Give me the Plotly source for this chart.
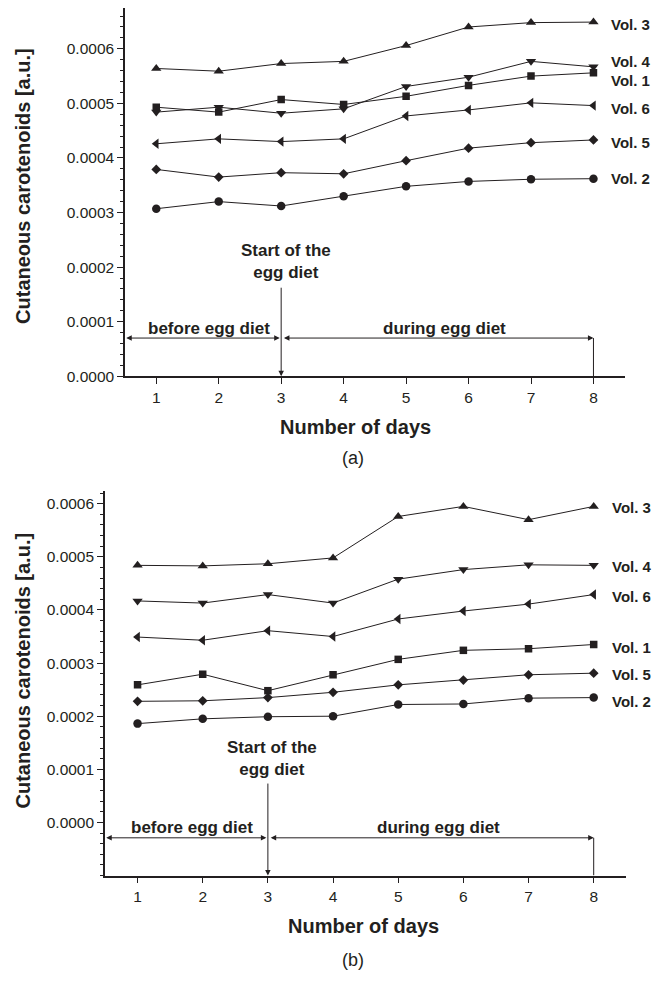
import plotly.graph_objects as go

days = [1, 2, 3, 4, 5, 6, 7, 8]
vol_names = ["Vol. 1", "Vol. 2", "Vol. 3", "Vol. 4", "Vol. 5", "Vol. 6"]

# Panel (a)
a_vol1 = [0.000493, 0.000484, 0.000507, 0.000498, 0.000513, 0.000533, 0.000550, 0.000556]
a_vol2 = [0.000307, 0.000320, 0.000312, 0.000330, 0.000348, 0.000357, 0.000361, 0.000362]
a_vol3 = [0.000564, 0.000559, 0.000573, 0.000577, 0.000606, 0.000640, 0.000648, 0.000649]
a_vol4 = [0.000484, 0.000493, 0.000482, 0.000490, 0.000531, 0.000548, 0.000577, 0.000567]
a_vol5 = [0.000379, 0.000365, 0.000373, 0.000371, 0.000395, 0.000418, 0.000428, 0.000433]
a_vol6 = [0.000426, 0.000435, 0.000430, 0.000435, 0.000477, 0.000488, 0.000501, 0.000496]

# Panel (b)
b_vol1 = [0.000259, 0.000279, 0.000248, 0.000278, 0.000307, 0.000324, 0.000327, 0.000335]
b_vol2 = [0.000186, 0.000195, 0.000199, 0.000200, 0.000222, 0.000223, 0.000234, 0.000235]
b_vol3 = [0.000484, 0.000483, 0.000487, 0.000498, 0.000576, 0.000595, 0.000570, 0.000595]
b_vol4 = [0.000417, 0.000413, 0.000429, 0.000413, 0.000458, 0.000476, 0.000485, 0.000484]
b_vol5 = [0.000228, 0.000229, 0.000235, 0.000245, 0.000259, 0.000268, 0.000278, 0.000281]
b_vol6 = [0.000349, 0.000343, 0.000361, 0.000350, 0.000383, 0.000398, 0.000411, 0.000429]

y_tick_vals = [0.0, 0.0001, 0.0002, 0.0003, 0.0004, 0.0005, 0.0006]
y_tick_text = ["0.0000", "0.0001", "0.0002", "0.0003", "0.0004", "0.0005", "0.0006"]

# label positions (layout, not data)
a_label_y = [0.000542, 0.000362, 0.000644, 0.000577, 0.000429, 0.000490]
b_label_y = [0.000330, 0.000228, 0.000592, 0.000482, 0.000279, 0.000426]

symbols = ["square", "circle", "triangle-up", "triangle-down", "diamond", "triangle-left"]
sizes = [7.5, 8.5, 9, 9, 7.5, 9]
INK = "#231f20"
FONT = "Liberation Sans, Arial, sans-serif"

fig = go.Figure()

panels = [
    ("x", "y", [a_vol1, a_vol2, a_vol3, a_vol4, a_vol5, a_vol6], a_label_y),
    ("x2", "y2", [b_vol1, b_vol2, b_vol3, b_vol4, b_vol5, b_vol6], b_label_y),
]

annotations = []
shapes = []

for xa, ya, series, label_y in panels:
    for name, vals, sym, sz, ly in zip(vol_names, series, symbols, sizes, label_y):
        fig.add_trace(go.Scatter(
            x=days, y=vals, name=name, mode="lines+markers",
            line=dict(color=INK, width=1),
            marker=dict(symbol=sym, size=sz, color=INK, line=dict(width=0)),
            xaxis=xa, yaxis=ya, showlegend=False,
        ))
        annotations.append(dict(
            x=8.25, y=ly, xref=xa, yref=ya, text="<b>%s</b>" % name,
            showarrow=False, xanchor="left", yanchor="middle",
            font=dict(family=FONT, size=15, color=INK),
        ))

# arrows and texts per panel
arrow_cfg = [
    ("x", "y", 0.00007, 0.000165, 0.0, 0.000088, 0.00021),
    ("x2", "y2", -0.000029, 0.000076, -0.0001, -0.0000093, 0.00012),
]
for xa, ya, ay_h, vtop, vbot, ty, sy in arrow_cfg:
    common = dict(xref=xa, yref=ya, axref=xa, ayref=ya, text="", showarrow=True,
                  arrowhead=2, arrowsize=1.1, arrowwidth=1, arrowcolor=INK,
                  standoff=0, startstandoff=0)
    annotations.append(dict(common, x=0.52, y=ay_h, ax=3, ay=ay_h, arrowside="end+start"))
    annotations.append(dict(common, x=8, y=ay_h, ax=3.02, ay=ay_h, arrowside="end+start"))
    annotations.append(dict(common, x=3, y=vbot, ax=3, ay=vtop, arrowside="end"))
    shapes.append(dict(type="line", xref=xa, yref=ya, x0=8, x1=8, y0=vbot, y1=ay_h,
                       line=dict(color=INK, width=1)))
    annotations.append(dict(x=1.84, y=ty, xref=xa, yref=ya, text="<b>before egg diet</b>",
                            showarrow=False, xanchor="center", yanchor="middle",
                            font=dict(family=FONT, size=17, color=INK)))
    annotations.append(dict(x=5.62, y=ty, xref=xa, yref=ya, text="<b>during egg diet</b>",
                            showarrow=False, xanchor="center", yanchor="middle",
                            font=dict(family=FONT, size=17, color=INK)))
    annotations.append(dict(x=3.07, y=sy, xref=xa, yref=ya,
                            text="<b>Start of the</b><br><b>egg diet</b>",
                            showarrow=False, xanchor="center", yanchor="middle",
                            font=dict(family=FONT, size=17, color=INK)))

# axis titles and panel labels
for xt, yt, xy, yy, lab, ly in [(0.536, 0.5621, 0.0354, 0.8086, "(a)", 0.5298),
                                 (0.547, 0.0496, 0.0346, 0.3116, "(b)", 0.01395)]:
    annotations.append(dict(x=xt, y=yt, xref="paper", yref="paper", text="<b>Number of days</b>",
                            showarrow=False, xanchor="center", yanchor="middle",
                            font=dict(family=FONT, size=20, color=INK)))
    annotations.append(dict(x=xy, y=yy, xref="paper", yref="paper",
                            text="<b>Cutaneous carotenoids [a.u.]</b>", textangle=-90,
                            showarrow=False, xanchor="center", yanchor="middle",
                            font=dict(family=FONT, size=20, color=INK)))
    annotations.append(dict(x=0.532, y=ly, xref="paper", yref="paper", text=lab,
                            showarrow=False, xanchor="center", yanchor="middle",
                            font=dict(family=FONT, size=18, color=INK)))

xcommon = dict(range=[0.5, 8.5], tickmode="array", tickvals=days, ticktext=[str(d) for d in days],
               ticks="outside", ticklen=6, tickwidth=1, tickcolor=INK,
               showline=True, linecolor=INK, linewidth=1.5, showgrid=False, zeroline=False,
               tickfont=dict(family=FONT, size=15.5, color=INK), fixedrange=True)


def ycommon(rng):
    minors = [round(v * 0.00002, 7) for v in range(-5, 35)]
    return dict(range=rng, tickmode="array", tickvals=y_tick_vals, ticktext=y_tick_text,
                ticks="outside", ticklen=6, tickwidth=1, tickcolor=INK,
                minor=dict(tickmode="array", tickvals=minors, ticks="outside", ticklen=3.5,
                           tickwidth=1, tickcolor=INK),
                showline=True, linecolor=INK, linewidth=1.5, showgrid=False, zeroline=False,
                tickfont=dict(family=FONT, size=15.5, color=INK), fixedrange=True)


fig.update_layout(
    width=664, height=982, autosize=False,
    margin=dict(l=0, r=0, t=0, b=0),
    paper_bgcolor="white", plot_bgcolor="white",
    showlegend=False,
    xaxis=dict(xcommon, domain=[0.1883, 0.9408], anchor="y"),
    yaxis=dict(ycommon([0.0, 0.000675]), domain=[0.6137, 0.9919], anchor="x"),
    xaxis2=dict(xcommon, domain=[0.1581, 0.9432], anchor="y2"),
    yaxis2=dict(ycommon([-0.0001, 0.000624]), domain=[0.1011, 0.4959], anchor="x2"),
    annotations=annotations,
    shapes=shapes,
)

fig.write_html(
    "out.html",
    config={"displayModeBar": False},
    post_script="document.body.style.margin='0';document.body.style.padding='0';"
                "document.body.style.overflow='hidden';",
)
